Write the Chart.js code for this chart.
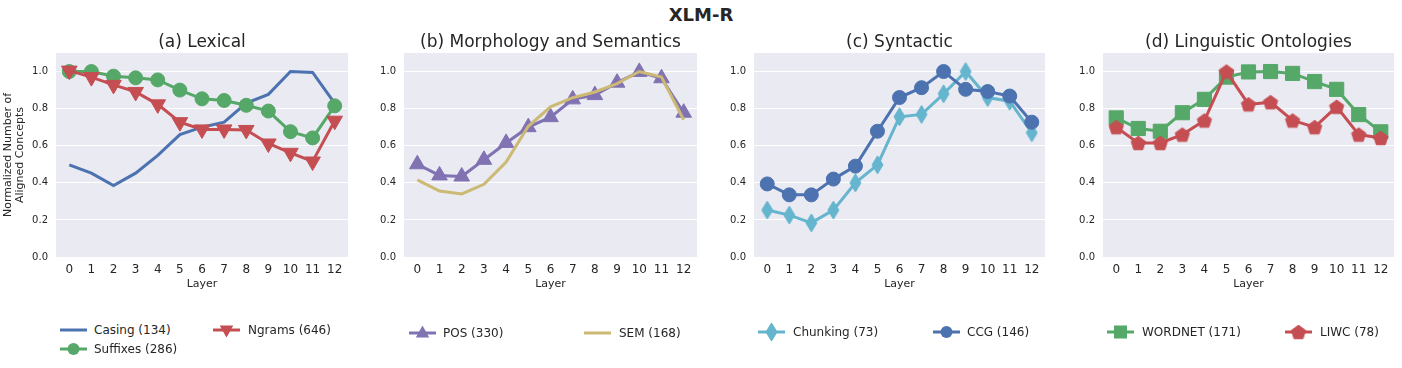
<!DOCTYPE html>
<html>
<head>
<meta charset="utf-8">
<script src="https://cdn.jsdelivr.net/npm/chart.js@4.4.1/dist/chart.umd.min.js"></script>
<style>
  html, body { margin:0; padding:0; background:#ffffff; }
  body { width:1402px; height:368px; position:relative; overflow:hidden; font-family:"DejaVu Sans", sans-serif; color:#262626; }
  canvas.chart { position:absolute; }
  .main-title { position:absolute; left:0; width:1402px; top:4px; text-align:center; font-weight:bold; font-size:18px; line-height:22px; padding-left:0px; }
  .lg-icon { position:absolute; }
  .lg-text { position:absolute; font-size:12px; line-height:18px; white-space:nowrap; color:#262626; }
</style>
</head>
<body>
<div class="main-title" id="mainTitle">XLM-R</div>
<canvas class="chart" id="cA"></canvas>
<canvas class="chart" id="cB"></canvas>
<canvas class="chart" id="cC"></canvas>
<canvas class="chart" id="cD"></canvas>
<script>
// ---------------- DATA ----------------
const layers = [0, 1, 2, 3, 4, 5, 6, 7, 8, 9, 10, 11, 12];
const yTickValues = [0.0, 0.2, 0.4, 0.6, 0.8, 1.0];

const panelTitles = ["(a) Lexical", "(b) Morphology and Semantics", "(c) Syntactic", "(d) Linguistic Ontologies"];
const mainTitle = "XLM-R";
const xAxisLabel = "Layer";
const yAxisLabel = ["Normalized Number of", "Aligned Concepts"];

// (a) Lexical
const casing   = [0.497, 0.452, 0.385, 0.452, 0.548, 0.660, 0.700, 0.727, 0.830, 0.877, 1.000, 0.995, 0.828];
const suffixes = [1.000, 1.000, 0.975, 0.966, 0.955, 0.900, 0.853, 0.844, 0.818, 0.787, 0.676, 0.642, 0.815];
const ngrams   = [1.005, 0.970, 0.928, 0.890, 0.823, 0.727, 0.688, 0.688, 0.685, 0.612, 0.562, 0.515, 0.735];
// (b) Morphology and Semantics
const pos      = [0.500, 0.440, 0.434, 0.524, 0.615, 0.700, 0.754, 0.850, 0.873, 0.940, 0.998, 0.964, 0.778];
const sem      = [0.416, 0.356, 0.340, 0.392, 0.512, 0.705, 0.810, 0.859, 0.890, 0.935, 1.000, 0.970, 0.740];
// (c) Syntactic
const chunking = [0.253, 0.226, 0.184, 0.253, 0.400, 0.497, 0.756, 0.769, 0.880, 1.000, 0.860, 0.840, 0.670];
const ccg      = [0.394, 0.335, 0.335, 0.420, 0.490, 0.678, 0.860, 0.913, 1.000, 0.904, 0.892, 0.868, 0.727];
// (d) Linguistic Ontologies
const wordnet  = [0.750, 0.693, 0.678, 0.778, 0.850, 0.970, 0.998, 1.000, 0.990, 0.946, 0.904, 0.768, 0.675];
const liwc     = [0.700, 0.615, 0.615, 0.660, 0.736, 1.000, 0.823, 0.835, 0.736, 0.700, 0.810, 0.660, 0.642];

const seriesLabels = {
  casing: "Casing (134)", suffixes: "Suffixes (286)", ngrams: "Ngrams (646)",
  pos: "POS (330)", sem: "SEM (168)",
  chunking: "Chunking (73)", ccg: "CCG (146)",
  wordnet: "WORDNET (171)", liwc: "LIWC (78)"
};

// ---------------- STYLE ----------------
const FONT = "'DejaVu Sans', sans-serif";
const TEXT = "#262626";
const BG = "#EAEAF2";
const C = { blue:"#4C72B0", green:"#55A868", red:"#C44E52", purple:"#8172B2", tan:"#CCB974", cyan:"#64B5CD" };

function makePentagon(color, R) {
  const s = Math.ceil(2 * R + 3);
  const cv = document.createElement('canvas'); cv.width = s; cv.height = s;
  const ctx = cv.getContext('2d');
  const cx = s / 2, cy = s / 2 + R * (1 - Math.cos(Math.PI / 5)) / 2;
  ctx.beginPath();
  for (let i = 0; i < 5; i++) {
    const a = -Math.PI / 2 + i * 2 * Math.PI / 5;
    const px = cx + R * Math.cos(a), py = cy + R * Math.sin(a);
    if (i === 0) ctx.moveTo(px, py); else ctx.lineTo(px, py);
  }
  ctx.closePath();
  ctx.fillStyle = color; ctx.fill();
  ctx.lineWidth = 1; ctx.strokeStyle = color; ctx.stroke();
  return cv;
}
function makeThinDiamond(color, w, h) {
  const cv = document.createElement('canvas'); cv.width = w + 2; cv.height = h + 2;
  const ctx = cv.getContext('2d');
  const cx = (w + 2) / 2, cy = (h + 2) / 2;
  ctx.beginPath();
  ctx.moveTo(cx, cy - h / 2); ctx.lineTo(cx + w / 2, cy); ctx.lineTo(cx, cy + h / 2); ctx.lineTo(cx - w / 2, cy);
  ctx.closePath();
  ctx.fillStyle = color; ctx.fill();
  ctx.lineWidth = 1; ctx.strokeStyle = color; ctx.stroke();
  return cv;
}
const pentagonImg = makePentagon(C.red, 7.5);
const diamondImg = makeThinDiamond(C.cyan, 11, 18);

function lineDS(label, data, color, extra) {
  return Object.assign({
    label: label,
    data: data.map((v, i) => ({ x: layers[i], y: v })),
    borderColor: color, backgroundColor: color,
    borderWidth: 3, tension: 0, fill: false,
    pointRadius: 0, pointBackgroundColor: color, pointBorderColor: color, pointBorderWidth: 1,
    clip: false
  }, extra || {});
}

const bgPlugin = {
  id: 'bgArea',
  beforeDraw(chart) {
    const a = chart.chartArea, ctx = chart.ctx;
    ctx.save(); ctx.fillStyle = BG; ctx.fillRect(a.left, a.top, a.right - a.left, a.bottom - a.top); ctx.restore();
  }
};

const TOP = 26, HEIGHT = 274;
function makeChart(id, canvasLeft, chartLeft, chartRight, title, datasets, showYTitle) {
  const el = document.getElementById(id);
  const width = chartRight - canvasLeft + 4;
  el.width = width; el.height = HEIGHT;
  el.style.left = canvasLeft + 'px'; el.style.top = TOP + 'px';
  el.style.width = width + 'px'; el.style.height = HEIGHT + 'px';
  const yWidth = chartLeft - canvasLeft;
  return new Chart(el, {
    type: 'line',
    data: { datasets: datasets },
    plugins: [bgPlugin],
    options: {
      animation: false, responsive: false, devicePixelRatio: 1,
      layout: { autoPadding: false, padding: { top: 0, right: 4, bottom: 0, left: 0 } },
      plugins: {
        legend: { display: false }, tooltip: { enabled: false },
        title: { display: true, text: title, color: TEXT, fullSize: false,
                 font: { family: FONT, size: 17, weight: 'normal' }, padding: { top: 6.5, bottom: 0.1 } }
      },
      scales: {
        x: {
          type: 'linear', min: -0.6, max: 12.6,
          afterBuildTicks: s => { s.ticks = layers.map(v => ({ value: v })); },
          afterFit: s => { s.height = 43; s.paddingLeft = 0; s.paddingRight = 0; },
          ticks: { autoSkip: false, maxRotation: 0, padding: 6, color: TEXT,
                   font: { family: FONT, size: 12 }, callback: v => String(v) },
          grid: { display: false, drawTicks: false },
          border: { display: false },
          title: { display: true, text: xAxisLabel, color: TEXT, font: { family: FONT, size: 11 },
                   padding: { top: 0, bottom: 9.5 } }
        },
        y: {
          min: 0, max: 1.1,
          afterBuildTicks: s => { s.ticks = yTickValues.map(v => ({ value: v })); },
          afterFit: s => { s.width = yWidth; s.paddingTop = 0; s.paddingBottom = 0; },
          ticks: { padding: 8, color: TEXT, font: { family: FONT, size: 10 }, callback: v => Number(v).toFixed(1) },
          grid: { color: '#ffffff', lineWidth: 1, drawTicks: false },
          border: { display: false },
          title: { display: showYTitle, text: yAxisLabel, color: TEXT,
                   font: { family: FONT, size: 11, lineHeight: 1.1 }, padding: { top: 2.3, bottom: 0 } }
        }
      }
    }
  });
}

// Panel (a)
makeChart('cA', 0, 56, 348, panelTitles[0], [
  lineDS(seriesLabels.ngrams, ngrams, C.red, { pointStyle: 'triangle', rotation: 180, pointRadius: 9, order: 0 }),
  lineDS(seriesLabels.suffixes, suffixes, C.green, { pointStyle: 'circle', pointRadius: 7, order: 1 }),
  lineDS(seriesLabels.casing, casing, C.blue, { order: 2 })
], true);
// Panel (b)
makeChart('cB', 364, 404, 697, panelTitles[1], [
  lineDS(seriesLabels.sem, sem, C.tan, { order: 0 }),
  lineDS(seriesLabels.pos, pos, C.purple, { pointStyle: 'triangle', pointRadius: 9, order: 1 })
], false);
// Panel (c)
makeChart('cC', 714, 754, 1045, panelTitles[2], [
  lineDS(seriesLabels.ccg, ccg, C.blue, { pointStyle: 'circle', pointRadius: 7, order: 0 }),
  lineDS(seriesLabels.chunking, chunking, C.cyan, { pointStyle: diamondImg, pointRadius: 9, order: 1 })
], false);
// Panel (d)
makeChart('cD', 1063, 1103, 1394, panelTitles[3], [
  lineDS(seriesLabels.liwc, liwc, C.red, { pointStyle: pentagonImg, pointRadius: 8, order: 0 }),
  lineDS(seriesLabels.wordnet, wordnet, C.green, { pointStyle: 'rect', pointRadius: 10, order: 1 })
], false);

// ---------------- LEGENDS (HTML) ----------------
function drawMarker(ctx, kind, color, x, y) {
  ctx.fillStyle = color; ctx.strokeStyle = color; ctx.lineWidth = 1;
  if (kind === 'circle') { ctx.beginPath(); ctx.arc(x, y, 6, 0, Math.PI * 2); ctx.fill(); }
  else if (kind === 'triUp' || kind === 'triDown') {
    const r = 7.5, d = kind === 'triUp' ? -1 : 1;
    ctx.beginPath();
    ctx.moveTo(x, y + d * r);
    ctx.lineTo(x - r * 0.9, y - d * r * 0.6);
    ctx.lineTo(x + r * 0.9, y - d * r * 0.6);
    ctx.closePath(); ctx.fill();
  }
  else if (kind === 'square') { ctx.fillRect(x - 6.5, y - 6.5, 13, 13); }
  else if (kind === 'pentagon') { ctx.drawImage(pentagonImg, x - pentagonImg.width / 2, y - pentagonImg.height / 2); }
  else if (kind === 'diamond') { ctx.drawImage(diamondImg, x - diamondImg.width / 2, y - diamondImg.height / 2); }
}
function addLegend(label, color, kind, iconLeft, textLeft, cy) {
  const cv = document.createElement('canvas');
  cv.className = 'lg-icon'; cv.width = 28; cv.height = 22;
  cv.style.left = iconLeft + 'px'; cv.style.top = (cy - 11) + 'px';
  const ctx = cv.getContext('2d');
  ctx.strokeStyle = color; ctx.lineWidth = 3;
  ctx.beginPath(); ctx.moveTo(0, 11); ctx.lineTo(27, 11); ctx.stroke();
  if (kind) drawMarker(ctx, kind, color, 13.5, 11);
  document.body.appendChild(cv);
  const t = document.createElement('div');
  t.className = 'lg-text'; t.textContent = label;
  t.style.left = textLeft + 'px'; t.style.top = (cy - 9) + 'px';
  document.body.appendChild(t);
}
addLegend(seriesLabels.casing, C.blue, null, 60, 94, 330);
addLegend(seriesLabels.suffixes, C.green, 'circle', 60, 94, 348.5);
addLegend(seriesLabels.ngrams, C.red, 'triDown', 213, 248, 330);
addLegend(seriesLabels.pos, C.purple, 'triUp', 409, 443, 332.5);
addLegend(seriesLabels.sem, C.tan, null, 584, 619, 332.5);
addLegend(seriesLabels.chunking, C.cyan, 'diamond', 758, 793, 332);
addLegend(seriesLabels.ccg, C.blue, 'circle', 933, 967, 332);
addLegend(seriesLabels.wordnet, C.green, 'square', 1107, 1142, 332);
addLegend(seriesLabels.liwc, C.red, 'pentagon', 1285, 1320, 332);
</script>
</body>
</html>
